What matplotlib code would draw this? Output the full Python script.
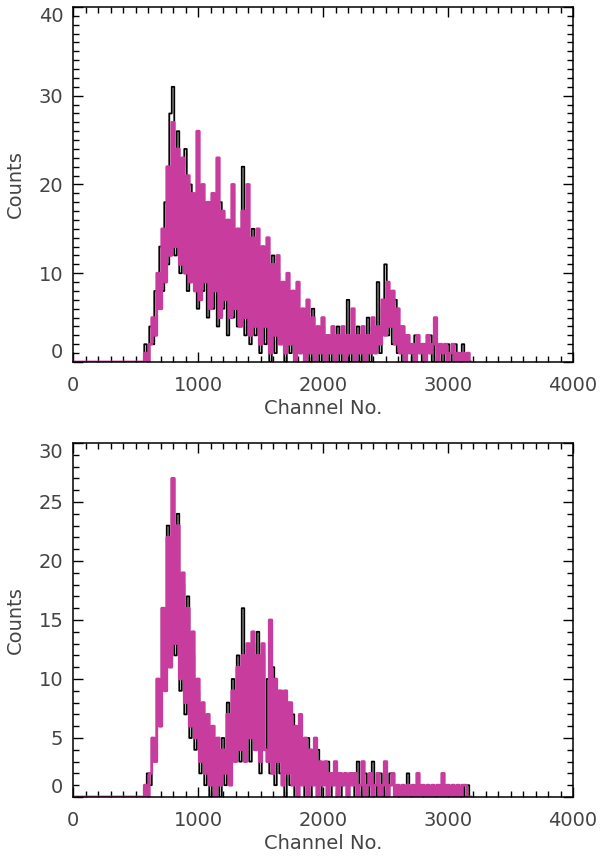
import numpy as np
import matplotlib
matplotlib.use('Agg')
from matplotlib import pyplot as plt
from matplotlib.ticker import MultipleLocator

# channel grid of the read-off samples (20 channels apart, starting at 560)
CH_START = 560
CH_STEP = 20

# top panel, counts per sample
top_magenta = [
    0, 1, 0, 2, 5, 3, 10, 6, 15, 9,
    22, 12, 27, 13, 24, 11, 23, 10, 21, 9,
    19, 8, 26, 7, 20, 9, 18, 6, 19, 8,
    23, 5, 17, 7, 16, 5, 20, 6, 15, 4,
    17, 5, 20, 3, 14, 4, 15, 2, 13, 4,
    14, 1, 11, 3, 12, 2, 9, 1, 10, 2,
    8, 0, 9, 1, 6, 0, 7, 1, 5, 0,
    4, 1, 5, 0, 3, 1, 4, 0, 3, 1,
    4, 0, 3, 1, 6, 0, 3, 1, 4, 0,
    3, 1, 5, 1, 4, 2, 7, 3, 9, 4,
    8, 2, 6, 1, 4, 0, 3, 1, 2, 0,
    3, 1, 2, 0, 3, 1, 2, 5, 0, 2,
    1, 2, 0, 1, 2, 0, 1, 0, 1, 0,
    1, 0,
]
top_black = [
    0, 2, 0, 4, 2, 8, 6, 13, 8, 18,
    11, 28, 31, 12, 26, 10, 22, 24, 8, 20,
    9, 18, 6, 19, 8, 17, 5, 18, 6, 16,
    4, 18, 6, 15, 3, 16, 5, 14, 4, 15,
    22, 3, 13, 2, 15, 3, 12, 1, 13, 2,
    11, 0, 12, 1, 10, 3, 9, 0, 8, 1,
    7, 0, 6, 1, 5, 0, 4, 0, 6, 1,
    3, 0, 4, 1, 3, 0, 2, 1, 4, 0,
    3, 1, 7, 0, 3, 1, 4, 0, 3, 1,
    5, 0, 4, 2, 9, 1, 6, 11, 3, 8,
    2, 7, 1, 4, 0, 3, 1, 2, 0, 3,
    1, 2, 0, 2, 1, 3, 0, 2, 1, 2,
    0, 1, 2, 0, 1, 2, 0, 1, 2, 0,
    1, 0,
]

# bottom panel
bot_magenta = [
    0, 1, 0, 2, 5, 3, 10, 6, 16, 9,
    22, 11, 27, 13, 23, 10, 19, 8, 16, 6,
    14, 5, 10, 3, 8, 2, 7, 1, 6, 0,
    5, 1, 4, 2, 7, 1, 9, 3, 11, 4,
    12, 3, 13, 5, 14, 4, 12, 3, 13, 4,
    3, 15, 2, 10, 3, 9, 1, 9, 2, 8,
    1, 6, 0, 7, 1, 5, 0, 4, 1, 5,
    0, 3, 1, 3, 0, 2, 1, 3, 0, 2,
    1, 2, 0, 2, 1, 2, 0, 1, 3, 0,
    1, 2, 0, 1, 2, 0, 1, 3, 0, 1,
    2, 0, 1, 0, 1, 0, 1, 0, 1, 0,
    2, 0, 1, 0, 1, 0, 1, 0, 1, 0,
    2, 0, 1, 0, 1, 0, 1, 0, 1, 1,
    0, 0,
]
bot_black = [
    0, 0, 2, 1, 5, 3, 10, 6, 16, 10,
    23, 13, 27, 12, 24, 9, 18, 7, 17, 5,
    12, 4, 9, 2, 7, 1, 6, 0, 5, 1,
    4, 0, 5, 1, 8, 2, 10, 4, 12, 3,
    16, 4, 12, 3, 13, 5, 14, 2, 12, 4,
    10, 2, 11, 1, 9, 2, 8, 0, 8, 1,
    7, 0, 6, 1, 4, 0, 5, 0, 3, 1,
    4, 0, 2, 1, 3, 0, 2, 1, 2, 0,
    1, 2, 0, 1, 2, 0, 3, 1, 0, 2,
    0, 1, 3, 0, 1, 2, 0, 1, 0, 2,
    1, 0, 1, 0, 1, 0, 2, 0, 1, 0,
    1, 0, 1, 0, 1, 0, 1, 0, 1, 0,
    1, 0, 1, 0, 1, 0, 1, 0, 1, 0,
    1, 0,
]

MAGENTA = '#c83c9e'
TEXT = '#444444'


def with_lead(vals):
    # channels below CH_START hold zero counts
    lead = np.arange(0, CH_START, CH_STEP)
    ch = np.concatenate([lead, CH_START + CH_STEP * np.arange(len(vals))])
    y = np.concatenate([np.zeros(len(lead)), np.array(vals, dtype=float)])
    return ch, y


def panel(ax, black, magenta, ymax, ymajor):
    ch, y = with_lead(black)
    ax.plot(ch, y, color='black', lw=1.3, drawstyle='steps-mid', snap=False)
    ch, y = with_lead(magenta)
    ax.plot(ch, y, color=MAGENTA, lw=2.0, drawstyle='steps-mid', snap=False)

    ax.set_xlim(0, 4000)
    ax.set_ylim(0, ymax)
    ax.xaxis.set_major_locator(MultipleLocator(1000))
    ax.xaxis.set_minor_locator(MultipleLocator(100))
    ax.set_yticks(np.arange(0, ymax + 1, ymajor))
    ax.yaxis.set_minor_locator(MultipleLocator(1))
    ax.tick_params(which='both', direction='in', top=True, right=True,
                   width=1.0, colors='black', labelcolor=TEXT, labelsize=14)
    ax.tick_params(which='major', length=7)
    ax.tick_params(which='minor', length=4)
    ax.tick_params(axis='x', pad=10)
    ax.tick_params(axis='y', pad=7)
    for s in ax.spines.values():
        s.set_linewidth(1.1)
        s.set_zorder(3)

    ax.set_xlabel('Channel No.', fontsize=14, color=TEXT)
    ax.set_ylabel('Counts', fontsize=14, color=TEXT)
    ax.xaxis.set_label_coords(0.5, -0.105)
    ax.yaxis.set_label_coords(-0.096, 0.5)

    ticks = ax.yaxis.get_major_ticks()
    ticks[0].label1.set_verticalalignment('bottom')
    ticks[-1].label1.set_verticalalignment('top')


fig = plt.figure(figsize=(6, 8.58), dpi=100)
ax1 = fig.add_axes([0.1217, 0.5781, 0.8333, 0.4138])
ax2 = fig.add_axes([0.1217, 0.0711, 0.8333, 0.4126])

panel(ax1, top_black, top_magenta, 40, 10)
panel(ax2, bot_black, bot_magenta, 30, 5)

fig.savefig('out.png', dpi=100)
